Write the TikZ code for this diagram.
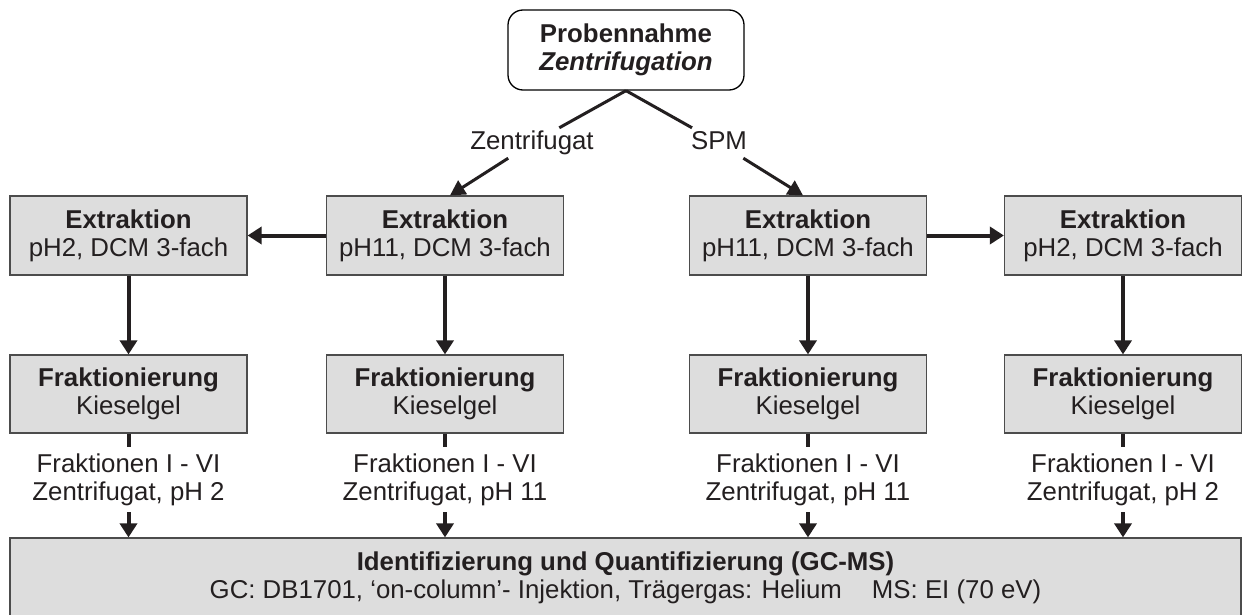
\documentclass[tikz,border=0pt]{standalone}
\usepackage{fontspec}
\setmainfont{Liberation Sans}
\usetikzlibrary{arrows.meta}
\definecolor{txt}{HTML}{231F20}
\definecolor{boxfill}{HTML}{DDDDDD}
\begin{document}
\begin{tikzpicture}[x=1pt,y=-1pt,
  every node/.style={font=\fontsize{25.8}{28}\selectfont, text=txt},
  box/.style={draw=black!70, line width=1.2pt, fill=boxfill, minimum width=237pt,
    minimum height=79pt, align=center, inner sep=0pt},
  topbox/.style={draw=black, line width=1.3pt, fill=white, rounded corners=15pt,
    minimum width=236pt, minimum height=80pt, align=center, inner sep=0pt},
  lbl/.style={inner sep=3pt, text height=18.5pt, text depth=5.5pt},
  flbl/.style={align=center, inner xsep=2pt, inner ysep=6.5pt},
  arr/.style={line width=4pt, draw=txt, -{Triangle[length=14pt,width=17pt]}},
  darr/.style={line width=3pt, draw=txt, -{Triangle[length=15pt,width=16pt]}},
  dline/.style={line width=3pt, draw=txt},
  vline/.style={line width=4pt, draw=txt}]
\useasboundingbox (0,0) rectangle (1242,615);
\fill[white] (0,0) rectangle (1242,615);
\clip (0,0) rectangle (1242,615);

% top node
\node[topbox] (top) at (626,50) {\textbf{Probennahme}\\\textbf{\textit{Zentrifugation}}};

% branch labels
\node[lbl] (lz) at (532,143) {Zentrifugat};
\node[lbl] (ls) at (719,143) {SPM};

% extraction boxes
\node[box] (A) at (128.5,235.5) {\textbf{Extraktion}\\pH2, DCM 3-fach};
\node[box] (B) at (445,235.5) {\textbf{Extraktion}\\pH11, DCM 3-fach};
\node[box] (C) at (808,235.5) {\textbf{Extraktion}\\pH11, DCM 3-fach};
\node[box] (D) at (1123,235.5) {\textbf{Extraktion}\\pH2, DCM 3-fach};

% fractionation boxes
\node[box, minimum height=78pt] (FA) at (128.5,394) {\textbf{Fraktionierung}\\Kieselgel};
\node[box, minimum height=78pt] (FB) at (445,394) {\textbf{Fraktionierung}\\Kieselgel};
\node[box, minimum height=78pt] (FC) at (808,394) {\textbf{Fraktionierung}\\Kieselgel};
\node[box, minimum height=78pt] (FD) at (1123,394) {\textbf{Fraktionierung}\\Kieselgel};

% fraction labels
\node[flbl] (LA) at (128.5,479.5) {Fraktionen I - VI\\Zentrifugat, pH 2};
\node[flbl] (LB) at (445,479.5) {Fraktionen I - VI\\Zentrifugat, pH 11};
\node[flbl] (LC) at (808,479.5) {Fraktionen I - VI\\Zentrifugat, pH 11};
\node[flbl] (LD) at (1123,479.5) {Fraktionen I - VI\\Zentrifugat, pH 2};

% bottom box
\node[box, minimum width=1231pt] (bot) at (625.5,577.5)
  {\textbf{Identifizierung und Quantifizierung (GC-MS)}\\
   GC: DB1701, ‘on-column’- Injektion, Trägergas: Helium\hspace{30pt}MS: EI (70 eV)};

% connectors
\draw[dline] (top.south) -- (lz);
\draw[darr] (lz) -- ([xshift=5pt]B.north);
\draw[dline] (top.south) -- (ls);
\draw[darr] (ls) -- ([xshift=-5pt]C.north);

\draw[arr] (B.west) -- (A.east);
\draw[arr] (C.east) -- (D.west);

\draw[arr] (A.south) -- (FA.north);
\draw[arr] (B.south) -- (FB.north);
\draw[arr] (C.south) -- (FC.north);
\draw[arr] (D.south) -- (FD.north);

\foreach \f/\l in {FA/LA,FB/LB,FC/LC,FD/LD}{
  \draw[vline] (\f.south) -- (\l.north);
  \draw[arr] (\l.south) -- (\l.south |- bot.north);
}
\end{tikzpicture}
\end{document}
